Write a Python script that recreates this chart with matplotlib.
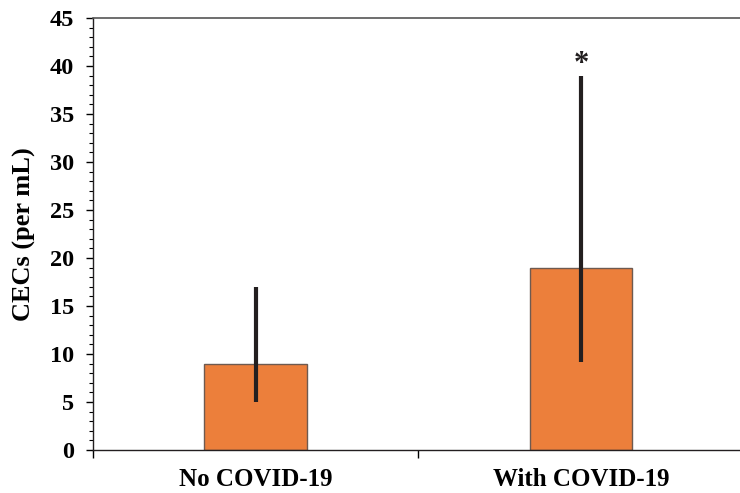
import matplotlib.pyplot as plt
from matplotlib.ticker import MultipleLocator

groups = ['No COVID-19', 'With COVID-19']
values = [9, 19]
err_low = [5, 9.2]
err_high = [17, 39]
star_y = 40.2

plt.rcParams['font.family'] = ['Liberation Serif', 'DejaVu Serif']
plt.rcParams['font.weight'] = 'bold'

fig = plt.figure(figsize=(7.4, 4.93), dpi=100)
ax = fig.add_axes([0.1257, 0.0872, 0.8793, 0.8763])

x = range(len(groups))
lower = [v - lo for v, lo in zip(values, err_low)]
upper = [hi - v for v, hi in zip(values, err_high)]
ax.bar(x, values, width=0.315, color='#ec7f3b', edgecolor='#6e5a50', linewidth=1.0, zorder=2)
ax.errorbar(x, values, yerr=[lower, upper], fmt='none', ecolor='#231f20', elinewidth=3, capsize=0, zorder=3)
ax.text(1, star_y, '*', ha='center', va='center', fontsize=22, fontweight='bold', color='#231f20')

ax.set_xlim(-0.5, 1.5)
ax.set_ylim(0, 45)
ax.yaxis.set_major_locator(MultipleLocator(5))
ax.yaxis.set_minor_locator(MultipleLocator(1))
ax.set_xticks([0, 1])
ax.set_xticklabels(groups, fontsize=18, fontweight='bold')
ax.set_xticks([-0.5, 0.5], minor=True)
ax.tick_params(axis='x', which='major', length=0, pad=13)
ax.tick_params(axis='x', which='minor', length=6, width=1, direction='out')
ax.tick_params(axis='y', which='major', length=5, width=1, direction='out', labelsize=17.5, pad=8.5)
ax.tick_params(axis='y', which='minor', length=3, width=0.8, direction='out')
for lbl in ax.get_yticklabels():
    lbl.set_fontweight('bold')
ax.set_ylabel('CECs (per mL)', fontsize=19, fontweight='bold', labelpad=10)

for s in ['left', 'bottom']:
    ax.spines[s].set_color('#231f20')
    ax.spines[s].set_linewidth(1.0)
ax.spines['top'].set_color('#555555')
ax.spines['top'].set_linewidth(1.2)
ax.spines['right'].set_visible(False)

fig.savefig('out.png', dpi=100)
